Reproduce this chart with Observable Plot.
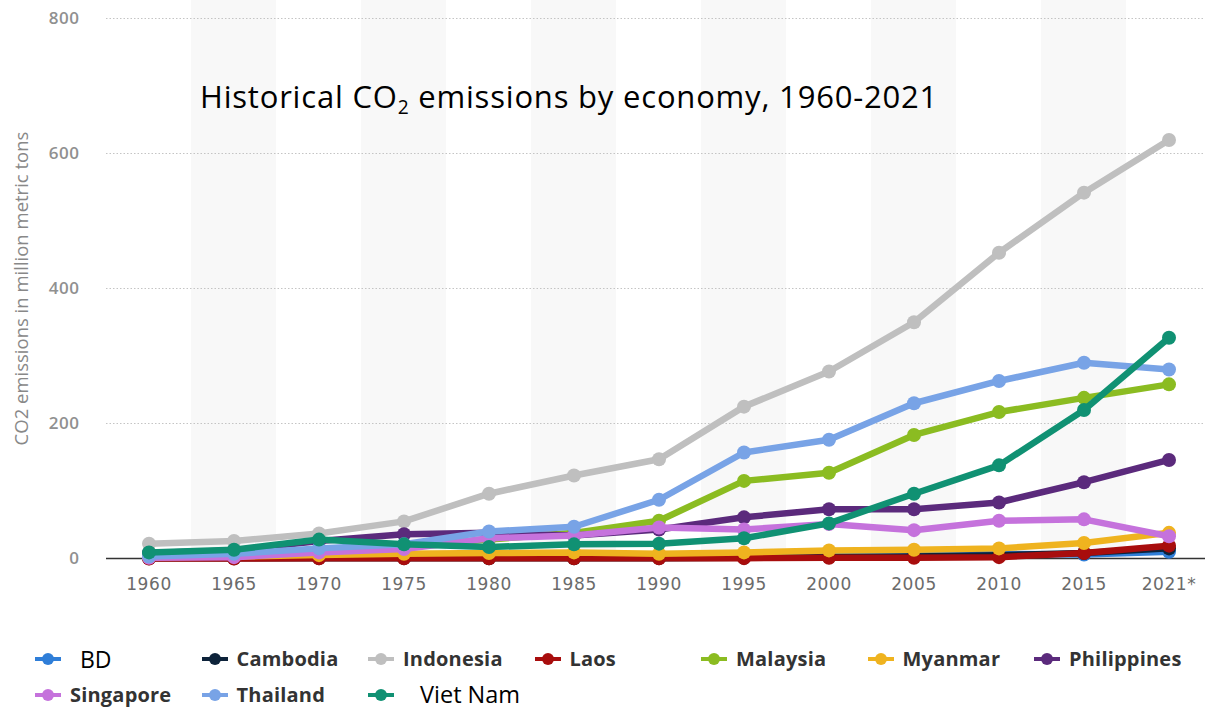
<!DOCTYPE html>
<html>
<head>
<meta charset="utf-8">
<script src="https://cdn.jsdelivr.net/npm/d3@7"></script>
<script src="https://cdn.jsdelivr.net/npm/@observablehq/plot@0.6"></script>
<style>
  body { margin: 0; background: #fff; width: 1205px; height: 712px; overflow: hidden; position: relative; font-family: "Open Sans", sans-serif; }
  #chart { position: absolute; left: 0; top: 0; }
  #title { position: absolute; left: 200px; top: 81px; font-size: 31px; letter-spacing: 0.8px; line-height: 1; color: #000; white-space: nowrap; font-family: "Open Sans", sans-serif; }
  #title sub { font-size: 0.62em; vertical-align: -0.32em; line-height: 0; }
  #legend { position: absolute; left: 35px; top: 639px; display: grid; grid-template-columns: repeat(7, 166.5px); grid-template-rows: 40px 32px; align-items: center; }
  .item { display: flex; align-items: center; white-space: nowrap; font-weight: 700; font-size: 20px; line-height: 1.1; letter-spacing: 0.2px; color: #333; }
  .sym { position: relative; width: 26px; height: 12px; margin-right: 9px; flex: none; }
  .sym .ln { position: absolute; left: 0; right: 0; top: 4px; height: 4px; }
  .sym .pt { position: absolute; left: 7px; top: 0; width: 12px; height: 12px; border-radius: 50%; }
  .item.plain { font-weight: 400; color: #000; font-size: 23px; line-height: 1; letter-spacing: 0; }
  .item.plain .sym { margin-right: 19px; }
  .item.plain.wide { font-size: 23.5px; }
  .item.plain.wide .sym { margin-right: 26px; }
</style>
</head>
<body>
<div id="chart"></div>
<div id="title">Historical CO<sub>2</sub> emissions by economy, 1960-2021</div>
<div id="legend"></div>
<script>
// Year categories on the x axis
const years = ["1960", "1965", "1970", "1975", "1980", "1985", "1990", "1995", "2000", "2005", "2010", "2015", "2021*"];

// Economies and their series colours
const countries = ["BD", "Cambodia", "Indonesia", "Laos", "Malaysia", "Myanmar", "Philippines", "Singapore", "Thailand", "Viet Nam"];
const colors = ["#2f7ed8", "#0d233a", "#bfbfbf", "#a80d0d", "#8bbc21", "#efb31f", "#5b2a7c", "#c572dc", "#78a3e6", "#109173"];

// CO2 emissions, million metric tons
const bd          = [1, 1, 2, 3, 4, 4, 4, 5, 5, 6, 7, 6, 10];
const cambodia    = [0.2, 0.3, 0.5, 0.5, 0.3, 0.4, 0.5, 1, 2, 3, 5, 8, 15];
const indonesia   = [22, 26, 37, 55, 96, 123, 147, 225, 277, 350, 453, 542, 620];
const laos        = [0.1, 0.1, 0.2, 0.2, 0.2, 0.3, 0.4, 0.5, 1, 1, 2, 8, 19];
const malaysia    = [4, 6, 12, 18, 28, 38, 56, 115, 127, 183, 217, 238, 258];
const myanmar     = [2, 3, 5, 7, 8, 9, 7, 9, 12, 13, 15, 23, 38];
const philippines = [8, 12, 26, 36, 38, 34, 43, 61, 73, 73, 83, 113, 146];
const singapore   = [1, 2, 9, 14, 30, 34, 46, 43, 51, 42, 56, 58, 33];
const thailand    = [3, 7, 15, 21, 40, 47, 87, 157, 176, 230, 263, 290, 280];
const vietNam     = [9, 13, 28, 21, 17, 21, 22, 30, 52, 96, 138, 220, 327];

const seriesValues = [bd, cambodia, indonesia, laos, malaysia, myanmar, philippines, singapore, thailand, vietNam];

const yTicks = [0, 200, 400, 600, 800];
const yLabel = "CO2 emissions in million metric tons";

const records = countries.flatMap((country, i) =>
  years.map((year, j) => ({country, year, value: seriesValues[i][j]}))
);
const shaded = years.filter((_, i) => i % 2 === 1);

// Each series draws its line then its markers, later series on top
const seriesMarks = countries.flatMap((country) => {
  const rows = records.filter((d) => d.country === country);
  return [
    Plot.line(rows, {x: "year", y: "value", stroke: "country", strokeWidth: 6.5, strokeLinejoin: "round", strokeLinecap: "round"}),
    Plot.dot(rows, {x: "year", y: "value", fill: "country", r: 7})
  ];
});

const chart = Plot.plot({
  width: 1205,
  height: 610,
  marginLeft: 106,
  marginRight: 0,
  marginTop: 0,
  marginBottom: 52,
  style: {background: "transparent", overflow: "hidden"},
  x: {type: "band", domain: years, range: [106, 1211], padding: 0},
  y: {domain: [0, 800], range: [558, 18]},
  color: {domain: countries, range: colors},
  marks: [
    Plot.cell(shaded, {x: (d) => d, fill: "#f8f8f8", inset: 0}),
    Plot.ruleY(yTicks.filter((t) => t > 0), {stroke: "#c4c4c4", strokeDasharray: "1.5,2"}),
    Plot.axisY({ticks: yTicks, tickSize: 0, tickPadding: 27, fontSize: 17, fontWeight: 600, fontFamily: "Open Sans", color: "#909090", label: null}),
    Plot.text([yLabel], {frameAnchor: "left", textAnchor: "middle", dx: -84, dy: 9, rotate: -90, fontSize: 18.5, fontFamily: "Open Sans", fill: "#888"}),
    Plot.axisX({tickSize: 0, tickPadding: 19, fontSize: 17, fontFamily: "DejaVu Sans", color: "#6b6b6b", label: null}),
    Plot.ruleY([0], {stroke: "#333", strokeWidth: 1.5}),
    ...seriesMarks
  ]
});

chart.querySelectorAll('[aria-label="x-axis tick label"] text').forEach((t) => t.style.letterSpacing = "0.6px");
chart.querySelectorAll('[aria-label="y-axis tick label"] text').forEach((t) => t.style.letterSpacing = "0.5px");
document.getElementById("chart").appendChild(chart);

// Legend
const plainLabels = {"BD": "plain", "Viet Nam": "plain wide"};
const legend = document.getElementById("legend");
countries.forEach((country, i) => {
  const item = document.createElement("div");
  item.className = "item" + (plainLabels[country] ? " " + plainLabels[country] : "");
  item.innerHTML = `<span class="sym"><span class="ln" style="background:${colors[i]}"></span><span class="pt" style="background:${colors[i]}"></span></span><span>${country}</span>`;
  legend.appendChild(item);
});
</script>
</body>
</html>
